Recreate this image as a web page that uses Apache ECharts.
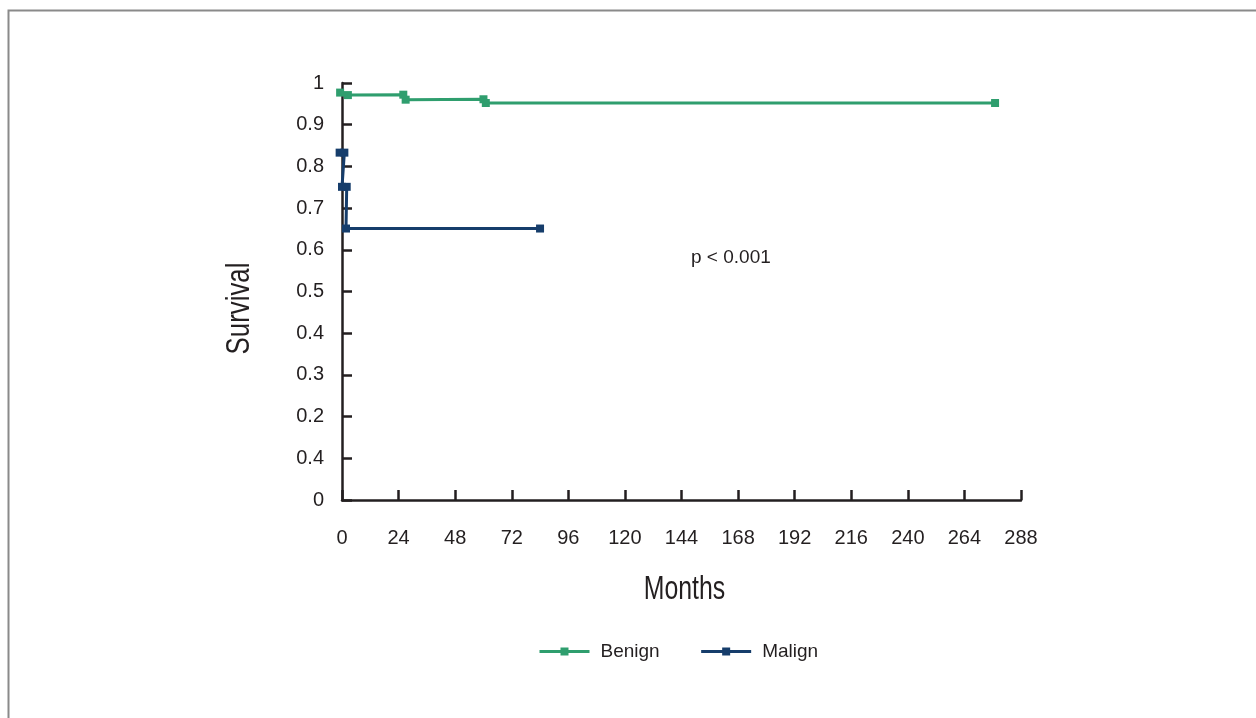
<!DOCTYPE html>
<html>
<head>
<meta charset="utf-8">
<script src="https://cdn.jsdelivr.net/npm/echarts@6/dist/echarts.min.js"></script>
<style>html,body{margin:0;padding:0;background:#fff}#c{width:1256px;height:718px}</style>
</head>
<body>
<div id="c"></div>
<script>
// Kaplan-Meier style survival data (months, survival)
const benignMonths = [-0.8, 2.5, 26, 27, 60, 61, 277];
const benignSurvival = [0.977, 0.971, 0.972, 0.960, 0.961, 0.952, 0.952];
const malignMonths = [-1, 1, 0, 2, 1.7, 84];
const malignSurvival = [0.833, 0.833, 0.751, 0.751, 0.651, 0.651];
const yTickLabels = ['0', '0.4', '0.2', '0.3', '0.4', '0.5', '0.6', '0.7', '0.8', '0.9', '1'];
const seriesNames = ['Benign', 'Malign'];
const xTitle = 'Months';
const yTitle = 'Survival';
const annotation = 'p < 0.001';

const FONT = '"Liberation Sans", Arial, sans-serif';
const TXT = '#231f20';
const GREEN = '#2f9e6e';
const NAVY = '#163d6b';

const zip = (xs, ys) => xs.map((x, i) => [x, ys[i]]);

const chart = echarts.init(document.getElementById('c'), null, {renderer: 'canvas'});
chart.setOption({
  backgroundColor: '#fff',
  animation: false,
  grid: {left: 342, right: 235, top: 83, bottom: 218, containLabel: false},
  xAxis: {
    type: 'value', min: 0, max: 288, interval: 24,
    axisLine: {lineStyle: {color: TXT, width: 2.5}},
    axisTick: {inside: true, length: 10, lineStyle: {color: TXT, width: 2.5}},
    axisLabel: {margin: 28, color: TXT, fontSize: 20, fontFamily: FONT},
    splitLine: {show: false}
  },
  yAxis: {
    type: 'value', min: 0, max: 1, interval: 0.1,
    axisLine: {show: true, lineStyle: {color: TXT, width: 2.5}},
    axisTick: {show: true, inside: true, length: 10, lineStyle: {color: TXT, width: 2.5}},
    axisLabel: {margin: 18, color: TXT, fontSize: 20, fontFamily: FONT,
      formatter: (v) => yTickLabels[Math.round(v * 10)]},
    splitLine: {show: false}
  },
  legend: {
    top: 637, left: 533,
    itemWidth: 50, itemHeight: 10, itemGap: 40,
    lineStyle: {width: 3},
    textStyle: {color: TXT, fontSize: 19, fontFamily: FONT, padding: [0, 0, 0, 6]},
    data: seriesNames
  },
  series: [
    {name: seriesNames[0], type: 'line', data: zip(benignMonths, benignSurvival),
      symbol: 'rect', symbolSize: 8, showAllSymbol: true, clip: false,
      itemStyle: {color: GREEN}, lineStyle: {color: GREEN, width: 3}},
    {name: seriesNames[1], type: 'line', data: zip(malignMonths, malignSurvival),
      symbol: 'rect', symbolSize: 8, showAllSymbol: true, clip: false,
      itemStyle: {color: NAVY}, lineStyle: {color: NAVY, width: 3}}
  ],
  graphic: [
    {type: 'rect', silent: true, shape: {x: 8.5, y: 10.5, width: 1400, height: 900},
      style: {fill: 'none', stroke: '#8a8a8a', lineWidth: 2}},
    {type: 'text', silent: true, x: 684.5, y: 590, scaleX: 0.73,
      style: {text: xTitle, x: 0, y: 0, align: 'center', verticalAlign: 'middle',
        font: '34px ' + FONT, fill: TXT}},
    {type: 'text', silent: true, x: 240, y: 308.5, rotation: Math.PI / 2, scaleX: 0.76,
      style: {text: yTitle, x: 0, y: 0, align: 'center', verticalAlign: 'middle',
        font: '34px ' + FONT, fill: TXT}},
    {type: 'text', silent: true,
      style: {text: annotation, x: 691, y: 258, align: 'left', verticalAlign: 'middle',
        font: '19px ' + FONT, fill: TXT}}
  ]
});
</script>
</body>
</html>
